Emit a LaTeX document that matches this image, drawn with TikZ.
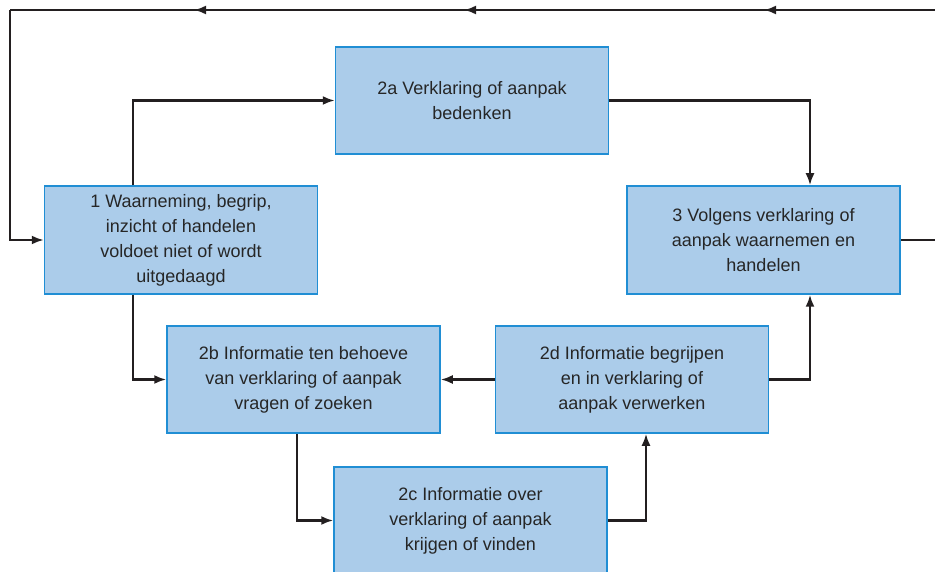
\documentclass[tikz,border=0pt]{standalone}
\usepackage{fontspec}
\setmainfont{Liberation Sans}
\usetikzlibrary{arrows.meta,decorations.markings}
\definecolor{boxfill}{RGB}{171,204,234}
\definecolor{boxedge}{RGB}{32,142,212}
\definecolor{linecol}{RGB}{35,31,32}
\begin{document}
\begin{tikzpicture}[x=1pt,y=-1pt,
  stepbox/.style={draw=boxedge,fill=boxfill,line width=1.5pt,rectangle,
    minimum width=273pt,minimum height=107pt,inner sep=0pt,align=center,
    font=\fontsize{18pt}{25pt}\selectfont,text=black!85},
  conn/.style={draw=linecol,line width=2.2pt,-{Latex[length=12pt,width=9pt]}},
  plain/.style={draw=linecol,line width=2.2pt}]
\useasboundingbox (0,0) rectangle (935,572);
\node[stepbox] (b2a) at (472,100.5) {2a Verklaring of aanpak\\bedenken};
\node[stepbox,minimum height=108pt] (b1) at (181,240) {1 Waarneming, begrip,\\inzicht of handelen\\voldoet niet of wordt\\uitgedaagd};
\node[stepbox,minimum height=108pt] (b3) at (763.5,240) {3 Volgens verklaring of\\aanpak waarnemen en\\handelen};
\node[stepbox] (b2b) at (303.5,379.5) {2b Informatie ten behoeve\\van verklaring of aanpak\\vragen of zoeken};
\node[stepbox] (b2d) at (632,379.5) {2d Informatie begrijpen\\en in verklaring of\\aanpak verwerken};
\node[stepbox] (b2c) at (470.5,520.5) {2c Informatie over\\verklaring of aanpak\\krijgen of vinden};
\coordinate (r3) at (936,240);
\coordinate (rt) at (936,10);
\coordinate (lt) at (10,10);
\coordinate (lb) at (10,240);
\draw[conn] ([xshift=-48pt]b1.north) |- (b2a.west);
\draw[conn] (b2a.east) -| ([xshift=46.5pt]b3.north);
\draw[conn] ([xshift=-48pt]b1.south) |- (b2b.west);
\draw[conn] (b2d.west) -- (b2b.east);
\draw[conn] ([xshift=-6.5pt]b2b.south) |- (b2c.west);
\draw[conn] (b2c.east) -| ([xshift=14pt]b2d.south);
\draw[conn] (b2d.east) -| ([xshift=46.5pt]b3.south);
\draw[plain] (b3.east) -- (r3);
\draw[plain,postaction={decorate},decoration={markings,
  mark=at position 172pt with {\arrow{Latex[length=12pt,width=9pt]}},
  mark=at position 472pt with {\arrow{Latex[length=12pt,width=9pt]}},
  mark=at position 742pt with {\arrow{Latex[length=12pt,width=9pt]}}}]
  (rt) -- (lt);
\draw[conn] (lt) -- (lb) -- (b1.west);
\end{tikzpicture}
\end{document}
